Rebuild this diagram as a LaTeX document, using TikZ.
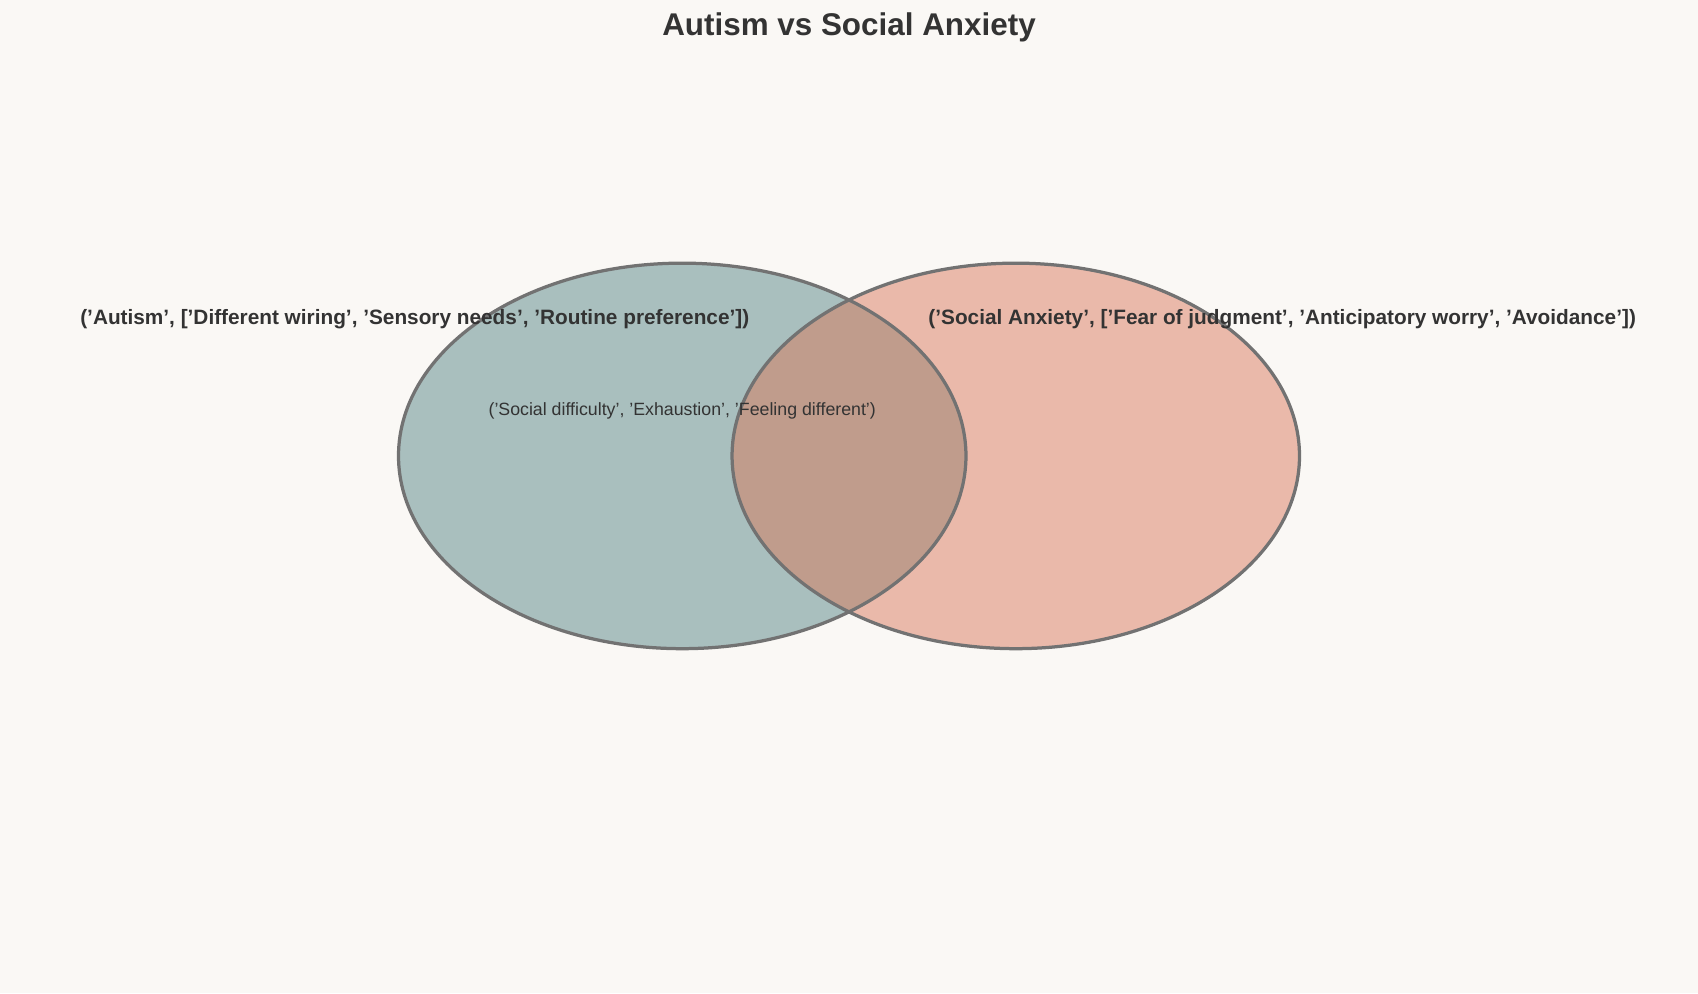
\documentclass[tikz,border=0pt]{standalone}
\usepackage{fontspec}
\setmainfont{Liberation Sans}
\definecolor{bg}{HTML}{FAF8F5}
\definecolor{lf}{HTML}{A9BFBE}
\definecolor{rf}{HTML}{EAB9AA}
\definecolor{ov}{HTML}{C09C8C}
\definecolor{ed}{HTML}{727272}
\definecolor{tx}{HTML}{333333}
\begin{document}
\begin{tikzpicture}[x=0.5pt,y=-0.5pt,
  lab/.style={text=tx,font=\bfseries\fontsize{9.6}{11}\selectfont,inner sep=0pt},
  circ/.style={draw=ed,line width=1.5pt}]
\fill[bg] (0,0) rectangle (1568,917);
\useasboundingbox (0,0) rectangle (1568,917);
\fill[lf] (630,421) ellipse [x radius=262,y radius=178];
\fill[rf] (938,421) ellipse [x radius=262,y radius=178];
\begin{scope}
\clip (630,421) ellipse [x radius=262,y radius=178];
\fill[ov] (938,421) ellipse [x radius=262,y radius=178];
\end{scope}
\draw[circ] (630,421) ellipse [x radius=262,y radius=178];
\draw[circ] (938,421) ellipse [x radius=262,y radius=178];
\node[text=tx,font=\bfseries\fontsize{14.5}{17}\selectfont] (title) at (784,25) {Autism vs Social Anxiety};
\node[lab] (a) at (383,295) {('Autism', ['Different wiring', 'Sensory needs', 'Routine preference'])};
\node[lab] (s) at (1184,295) {('Social Anxiety', ['Fear of judgment', 'Anticipatory worry', 'Avoidance'])};
\node[text=tx,font=\fontsize{8.2}{10}\selectfont,inner sep=0pt] (c) at (630,379) {('Social difficulty', 'Exhaustion', 'Feeling different')};
\end{tikzpicture}
\end{document}
